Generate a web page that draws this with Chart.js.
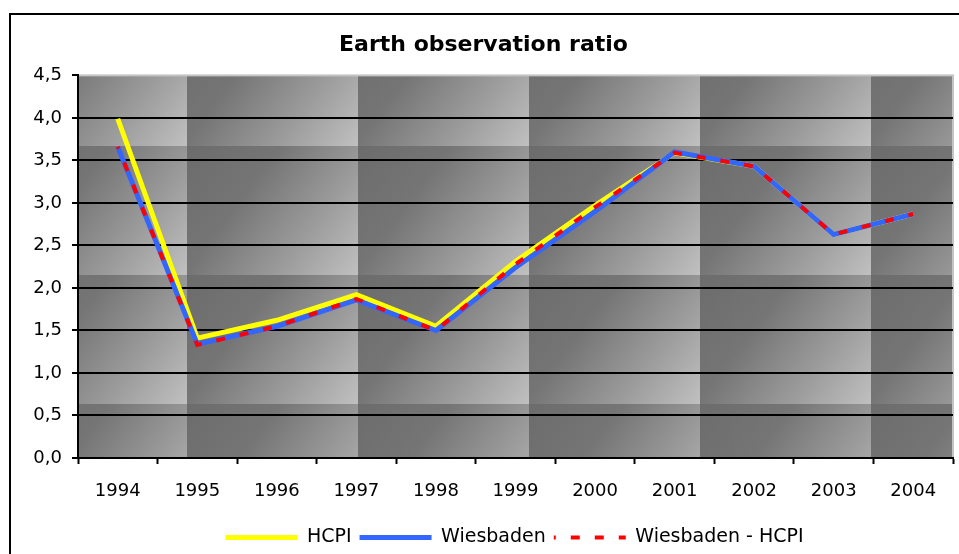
<!DOCTYPE html>
<html>
<head>
<meta charset="utf-8">
<script src="https://cdn.jsdelivr.net/npm/chart.js@4.4.1/dist/chart.umd.min.js"></script>
<style>
  html, body { margin: 0; padding: 0; background: #ffffff; }
  canvas { display: block; }
</style>
</head>
<body>
<canvas id="c" width="959" height="554"></canvas>
<script>
const chartTitle = 'Earth observation ratio';
const years = ['1994', '1995', '1996', '1997', '1998', '1999', '2000', '2001', '2002', '2003', '2004'];
const hcpi = [3.99, 1.41, 1.62, 1.92, 1.55, 2.31, 2.97, 3.59, 3.43, 2.63, 2.87];
const wiesbaden = [3.66, 1.34, 1.55, 1.86, 1.50, 2.24, 2.90, 3.60, 3.43, 2.63, 2.87];
const wiesbadenMinusHcpi = [3.66, 1.33, 1.55, 1.87, 1.50, 2.28, 2.95, 3.59, 3.43, 2.63, 2.87];
const yTickLabels = ['0,0', '0,5', '1,0', '1,5', '2,0', '2,5', '3,0', '3,5', '4,0', '4,5'];

function makeTile() {
  const w = 171, h = 129;
  const c = document.createElement('canvas');
  c.width = w; c.height = h;
  const g = c.getContext('2d');
  const lg = g.createLinearGradient(0, 0, w, h);
  lg.addColorStop(0, '#6c6c6c');
  lg.addColorStop(0.35, '#757575');
  lg.addColorStop(0.7, '#9c9c9c');
  lg.addColorStop(1, '#c0c0c0');
  g.fillStyle = lg;
  g.fillRect(0, 0, w, h);
  return c;
}

const bgPlugin = {
  id: 'bgPlugin',
  beforeDraw(chart) {
    const ctx = chart.ctx;
    const a = chart.chartArea;
    ctx.save();
    ctx.fillStyle = '#ffffff';
    ctx.fillRect(0, 0, chart.width, chart.height);
    ctx.strokeStyle = '#000000';
    ctx.lineWidth = 2;
    ctx.strokeRect(10, 14, chart.width + 20, chart.height + 20);
    const pat = ctx.createPattern(makeTile(), 'repeat');
    pat.setTransform(new DOMMatrix().translate(16, 17));
    ctx.fillStyle = pat;
    ctx.fillRect(a.left, a.top, a.right - a.left, a.bottom - a.top);
    ctx.strokeStyle = '#c4c4c4';
    ctx.lineWidth = 2;
    ctx.strokeRect(a.left, a.top, a.right - a.left, a.bottom - a.top);
    ctx.restore();
  },
  afterLayout(chart) {
    const lg = chart.legend;
    lg.left += 31; lg.right += 31;
    lg.top += 3; lg.bottom += 3;
  }
};

Chart.defaults.font.family = "'DejaVu Sans', sans-serif";
Chart.defaults.color = '#000000';

new Chart(document.getElementById('c'), {
  type: 'line',
  data: {
    labels: years,
    datasets: [
      {
        label: 'HCPI', data: hcpi, borderColor: '#ffff00', backgroundColor: '#ffff00',
        borderWidth: 5, pointRadius: 0, pointHoverRadius: 0, order: 3
      },
      {
        label: 'Wiesbaden', data: wiesbaden, borderColor: '#3366ff', backgroundColor: '#3366ff',
        borderWidth: 5, pointRadius: 0, pointHoverRadius: 0, order: 2
      },
      {
        label: 'Wiesbaden - HCPI', data: wiesbadenMinusHcpi, borderColor: '#ff0000', backgroundColor: '#ff0000',
        borderWidth: 4, borderDash: [9, 15], borderDashOffset: 7, pointRadius: 0, pointHoverRadius: 0, order: 1
      }
    ]
  },
  options: {
    responsive: false,
    animation: false,
    devicePixelRatio: 1,
    layout: { padding: { left: 14, right: 6, top: 0, bottom: 0 } },
    plugins: {
      title: {
        display: true, text: chartTitle,
        font: { size: 22, weight: 'bold' }, color: '#000000',
        padding: { top: 32, bottom: 17 }
      },
      legend: {
        position: 'bottom',
        labels: {
          usePointStyle: true, pointStyle: 'line', pointStyleWidth: 72,
          padding: 8, font: { size: 19 }, color: '#000000',
          sort: (a, b) => a.datasetIndex - b.datasetIndex,
          generateLabels(chart) {
            const items = Chart.defaults.plugins.legend.labels.generateLabels(chart);
            items.forEach((it) => {
              const ds = chart.data.datasets[it.datasetIndex];
              it.lineDash = ds.borderDash || [];
              it.lineDashOffset = ds.borderDashOffset || 0;
              it.lineWidth = ds.borderWidth;
              it.strokeStyle = ds.borderColor;
              it.lineCap = 'butt';
            });
            return items;
          }
        }
      },
      tooltip: { enabled: false }
    },
    scales: {
      x: {
        offset: true,
        grid: { offset: true, drawOnChartArea: false, drawTicks: true, tickLength: 6, tickColor: '#000000', tickWidth: 2 },
        border: { display: true, color: '#000000', width: 2 },
        ticks: { font: { size: 18 }, color: '#000000', padding: 17, maxRotation: 0, autoSkip: false },
        afterFit(s) { s.height = 59; }
      },
      y: {
        min: 0, max: 4.5,
        grid: {
          color: (c) => (c.tick && c.tick.value >= 4.5) ? 'rgba(0,0,0,0)' : '#000000',
          lineWidth: 2, tickLength: 6, tickColor: '#000000', tickWidth: 2
        },
        border: { display: true, color: '#000000', width: 2 },
        ticks: {
          stepSize: 0.5, font: { size: 18 }, color: '#000000', padding: 10,
          callback: (v, i) => yTickLabels[i]
        },
        afterFit(s) { s.width = 64; }
      }
    }
  },
  plugins: [bgPlugin]
});
</script>
</body>
</html>
